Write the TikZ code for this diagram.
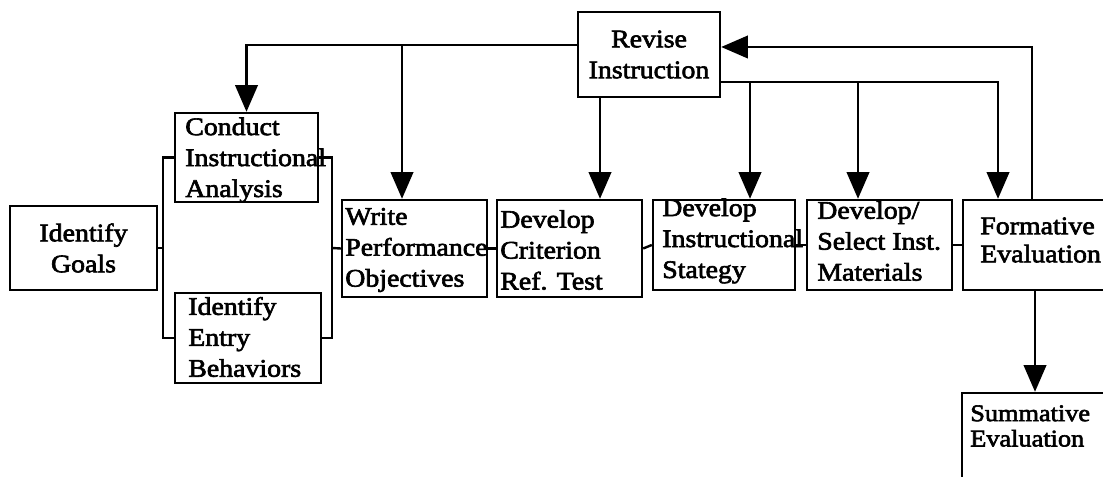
\documentclass[tikz,border=0pt]{standalone}
\usepackage{fontspec}
\setmainfont{Liberation Serif}[FakeStretch=1.1, FakeBold=2.5]
\usetikzlibrary{arrows.meta}
\tikzset{
  stepbox/.style 2 args={draw, line width=1.7pt, minimum width=#1*0.025cm, minimum height=#2*0.025cm, inner sep=0pt},
  steptext/.style={font=\fontsize{18}{22}\selectfont, align=left, anchor=west, inner sep=0pt},
  flow/.style={line width=1.7pt},
  feed/.style={line width=1.7pt, -{Triangle[width=16pt,length=19pt]}},
}

\begin{document}
\begin{tikzpicture}[x=0.025cm, y=-0.025cm]
\useasboundingbox (0,0) rectangle (1103,477);
\clip (0,0) rectangle (1103,477);
% boxes
\node[stepbox={147}{84}] (goals) at (83.5,248) {};
\node[stepbox={143}{89}] (conduct) at (246.5,157.5) {};
\node[stepbox={146}{90}] (entry) at (248,338) {};
\node[stepbox={145}{97}] (write) at (414.5,248.5) {};
\node[stepbox={145}{97}] (crit) at (569.5,248.5) {};
\node[stepbox={142}{90}] (strat) at (724,245) {};
\node[stepbox={145}{90}] (mats) at (879.5,245) {};
\node[stepbox={157}{90}] (form) at (1041.5,245) {};
\node[stepbox={142}{85}] (revise) at (649,54.5) {};
\node[stepbox={158}{107}] (summ) at (1041,446.5) {};
% texts
\node[steptext, align=center, anchor=center] (goals-t) at (goals.center) {Identify\\Goals};
\node[steptext] (conduct-t) at (185,160) {Conduct\\Instructional\\Analysis};
\node[steptext] (entry-t) at (188,337) {Identify\\Entry\\Behaviors};
\node[steptext] (write-t) at (345,250) {Write\\Performance\\Objectives};
\node[steptext] (crit-t) at (500,250) {Develop\\Criterion\\Ref. Test};
\node[steptext] (strat-t) at (662,241) {Develop\\Instructional\\Stategy};
\node[steptext] (mats-t) at (817,241) {Develop/\\Select Inst.\\Materials};
\node[steptext, font=\fontsize{18}{20}\selectfont] (form-t) at (980,240) {Formative\\Evaluation};
\node[steptext, align=center, anchor=center] (revise-t) at (revise.center) {Revise\\Instruction};
\node[steptext, font=\fontsize{17}{18}\selectfont] (summ-t) at (970,426) {Summative\\Evaluation};
% brackets
\coordinate (lb) at (163,248);
\coordinate (rb) at (332,248);
\draw[flow] (goals.east) -- (lb);
\draw[flow] (conduct.west) -| (lb) |- (entry.west);
\draw[flow] (conduct.east) -| (rb) |- (entry.east);
\draw[flow] (rb) -- (write.west);
% main line
\draw[flow] (write.east) -- (crit.west);
\draw[flow] (crit.east) -- (strat.west);
\draw[flow] (strat.east) -- (mats.west);
\draw[flow] (mats.east) -- (form.west);
% revise arrows
\draw[feed] (revise.west |- 0,45) -| (conduct.north);
\draw[feed] (402,45) -- (402,0 |- write.north);
\draw[feed] (600,0 |- revise.south) -- (600,0 |- crit.north);
\draw[feed] (revise.east |- 0,82) -| (998,0 |- form.north);
\draw[feed] (750,82) -- (750,0 |- strat.north);
\draw[feed] (858,82) -- (858,0 |- mats.north);
\draw[feed] (1032,0 |- form.north) |- (revise.east |- 0,47);
\draw[feed] (1035,0 |- form.south) -- (1035,0 |- summ.north);
\end{tikzpicture}
\end{document}
